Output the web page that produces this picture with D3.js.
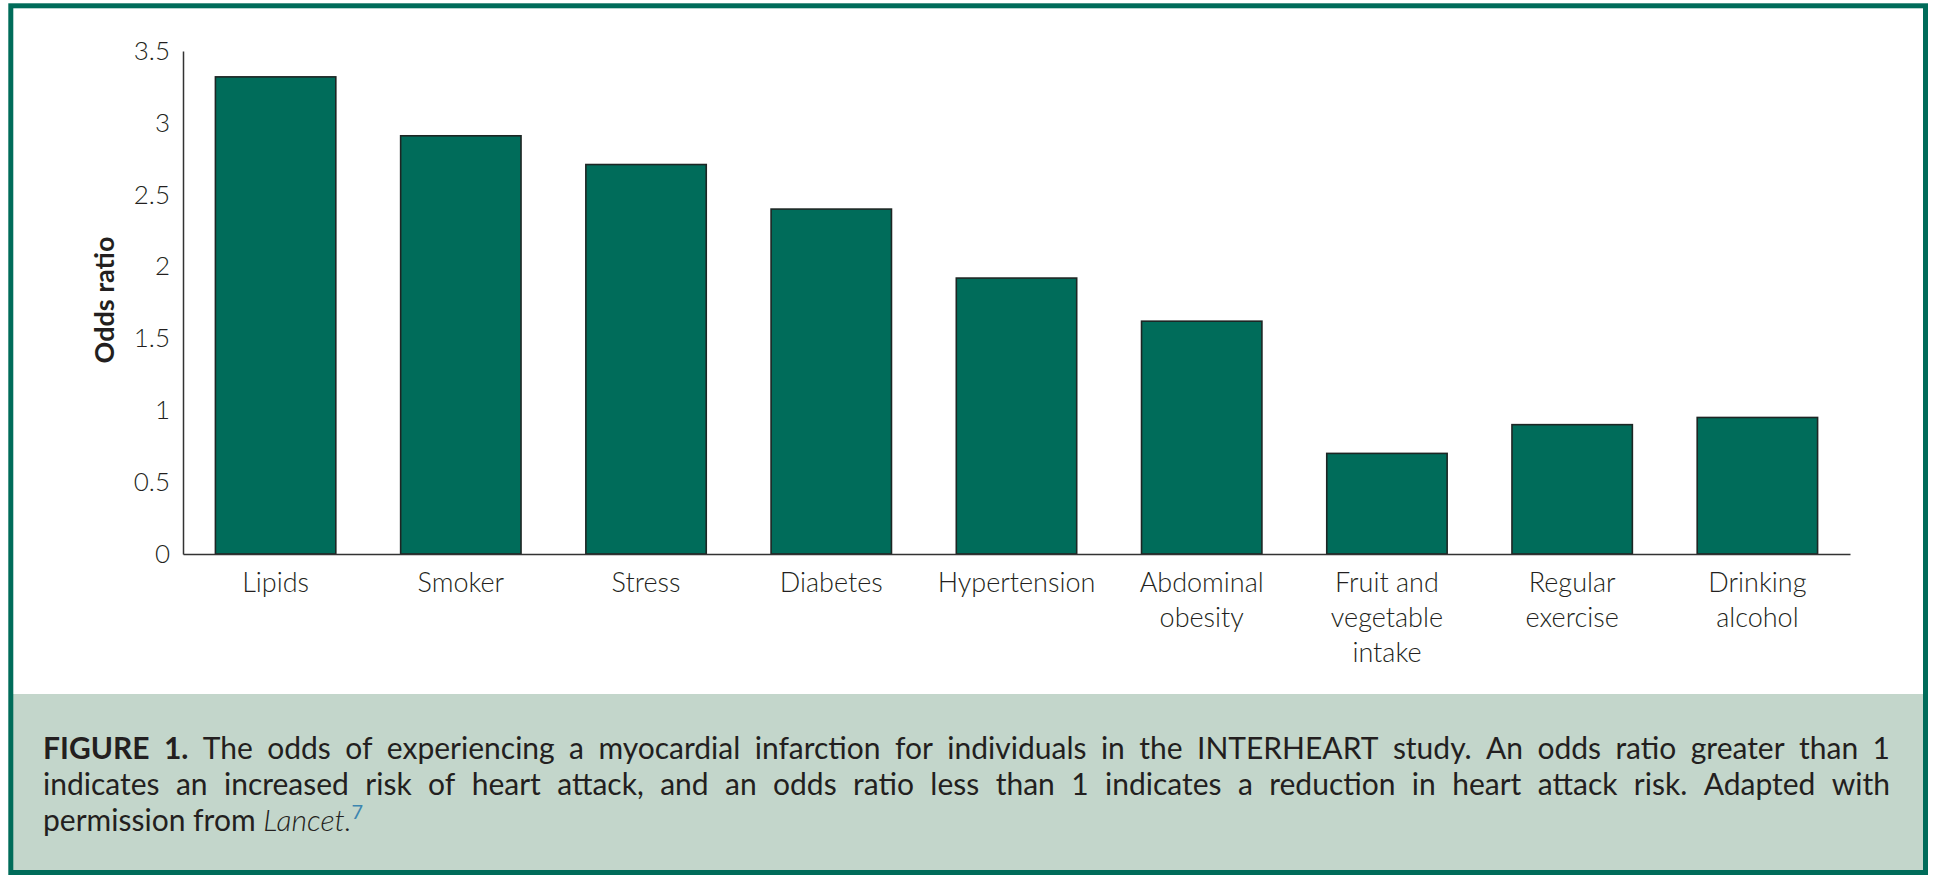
<!DOCTYPE html>
<html>
<head>
<meta charset="utf-8">
<script src="https://cdn.jsdelivr.net/npm/d3@7"></script>
<style>
  html, body { margin: 0; padding: 0; background: #fff; }
  svg { display: block; font-family: Lato, "Open Sans", sans-serif; }
</style>
</head>
<body>
<div id="chart"></div>
<script>
// data
const categories = ["Lipids", "Smoker", "Stress", "Diabetes", "Hypertension", "Abdominal obesity", "Fruit and vegetable intake", "Regular exercise", "Drinking alcohol"];
const oddsRatios = [3.32, 2.91, 2.71, 2.40, 1.92, 1.62, 0.70, 0.90, 0.95];
const yTicks = [0, 0.5, 1, 1.5, 2, 2.5, 3, 3.5];
const yTitle = "Odds ratio";

const captionLine1 = [
    {text: "FIGURE 1.", style: "bold"},
    {text: "The odds of experiencing a myocardial infarction for individuals in the INTERHEART study. An odds ratio greater than 1", style: "normal"}
];
const captionLine2 = [
    {text: "indicates an increased risk of heart attack, and an odds ratio less than 1 indicates a reduction in heart attack risk. Adapted with", style: "normal"}
];
const captionLine3 = [
    {text: "permission from ", style: "normal"},
    {text: "Lancet.", style: "italic"},
    {text: "7", style: "sup"}
];

const width = 1936, height = 886;
const teal = "#006c5a";
const ink = "#231f20";
const captionSize = 30;

const svg = d3.select("#chart").append("svg")
    .attr("width", width)
    .attr("height", height);

// caption band and frame
svg.append("rect")
    .attr("x", 13).attr("y", 694)
    .attr("width", 1910).attr("height", 178)
    .attr("fill", "#c3d6cb");

svg.append("rect")
    .attr("x", 10.8).attr("y", 5.8)
    .attr("width", 1914.7).attr("height", 866.7)
    .attr("fill", "none")
    .attr("stroke", teal)
    .attr("stroke-width", 5);

// scales
const x = d3.scaleBand()
    .domain(categories)
    .range([183, 1850])
    .paddingInner(0.35)
    .paddingOuter(0.175);

const y = d3.scaleLinear()
    .domain([0, 3.5])
    .range([554, 51]);

// bars
svg.append("g")
    .selectAll("rect")
    .data(categories)
    .enter()
    .append("rect")
    .attr("x", d => x(d))
    .attr("y", (d, i) => y(oddsRatios[i]))
    .attr("width", x.bandwidth())
    .attr("height", (d, i) => y(0) - y(oddsRatios[i]))
    .attr("fill", teal)
    .attr("stroke", "#1d2624")
    .attr("stroke-width", 1.6);

// y axis
const yAxis = svg.append("g")
    .attr("transform", "translate(183,0)")
    .call(d3.axisLeft(y).tickValues(yTicks).tickSize(0).tickPadding(13).tickFormat(d => String(d)));
yAxis.select(".domain").attr("stroke", "#333").attr("stroke-width", 1.5);
yAxis.selectAll("text")
    .attr("fill", ink)
    .style("font-size", "26px")
    .style("font-weight", "300")
    .style("font-family", "Lato, sans-serif");

// x axis
const xAxis = svg.append("g")
    .attr("transform", "translate(0,554)")
    .call(d3.axisBottom(x).tickSize(0).tickSizeOuter(0).tickFormat(""));
xAxis.select(".domain").attr("stroke", "#333").attr("stroke-width", 1.5);

// wrapped category labels
const labels = svg.append("g")
    .style("font-size", "27px")
    .style("font-weight", "300")
    .attr("fill", ink)
    .attr("text-anchor", "middle");

categories.forEach(function(cat){
    let cx = x(cat) + x.bandwidth() / 2;
    let text = labels.append("text").attr("x", cx).attr("y", 592);
    let line = [];
    let tspan = text.append("tspan").attr("x", cx).attr("dy", 0);
    cat.split(" ").forEach(function(w){
        line.push(w);
        tspan.text(line.join(" "));
        if(tspan.node().getComputedTextLength() > 150 && line.length > 1){
            line.pop();
            tspan.text(line.join(" "));
            line = [w];
            tspan = text.append("tspan").attr("x", cx).attr("dy", 35).text(w);
        }
    });
});

// y title
svg.append("text")
    .attr("transform", "translate(103,300) rotate(-90)")
    .attr("text-anchor", "middle")
    .attr("dominant-baseline", "central")
    .attr("fill", ink)
    .style("font-size", "27px")
    .style("font-weight", "700")
    .text(yTitle);

// caption
function styleRun(sel, style){
    sel.style("font-size", captionSize + "px")
        .attr("fill", ink)
        .style("font-weight", style === "bold" ? "700" : (style === "italic" ? "300" : "400"))
        .style("font-style", style === "italic" ? "italic" : "normal");
}

function justifyLine(runs, x0, x1, yPos){
    let g = svg.append("g");
    let words = [];
    runs.forEach(r => r.text.split(" ").forEach(w => words.push({w: w, style: r.style})));
    let nodes = words.map(d => g.append("text").attr("y", yPos).text(d.w).call(styleRun, d.style));
    let widths = nodes.map(n => n.node().getComputedTextLength());
    let gap = (x1 - x0 - d3.sum(widths)) / (words.length - 1);
    let pos = x0;
    nodes.forEach((n, i) => { n.attr("x", pos); pos += widths[i] + gap; });
}

justifyLine(captionLine1, 43, 1890, 759);
justifyLine(captionLine2, 43, 1890, 795);

let last = svg.append("text").attr("x", 43).attr("y", 831);
captionLine3.forEach(function(r){
    let t = last.append("tspan").text(r.text);
    if(r.style === "sup"){
        t.attr("dy", -12).style("font-size", "20px").attr("fill", "#3d86b0").style("font-weight", "400");
    }else{
        t.call(styleRun, r.style);
    }
});
</script>
</body>
</html>
